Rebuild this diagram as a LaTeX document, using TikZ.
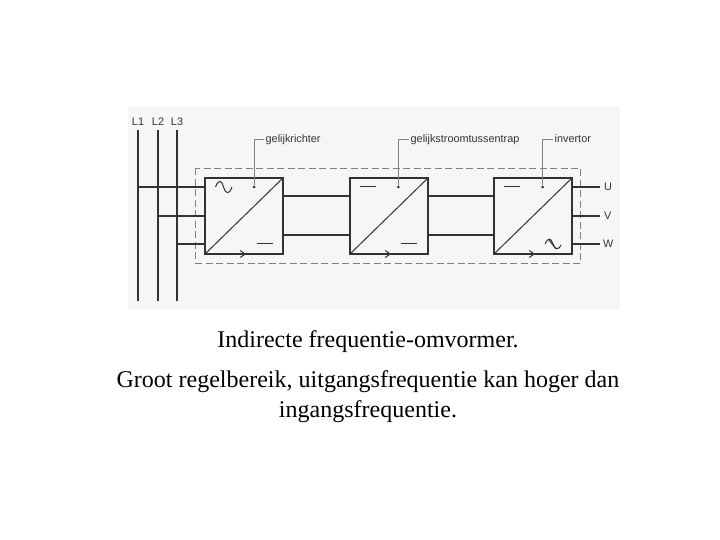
\documentclass[tikz,border=0pt]{standalone}
\usepackage{fontspec}
\usetikzlibrary{arrows.meta}
\setmainfont{Liberation Serif}
\setsansfont{Liberation Sans}
\definecolor{scanbg}{gray}{0.965}
\definecolor{inkc}{gray}{0.2}
\begin{document}
\begin{tikzpicture}[x=1bp,y=-1bp,
  bus/.style={draw=inkc,line width=2bp},
  link/.style={draw=inkc,line width=2bp},
  conv/.style={draw=inkc,line width=2bp,fill=none,minimum width=78bp,minimum height=76bp,inner sep=0pt,outer sep=0pt},
  thin line/.style={draw=inkc,line width=1bp},
  tag/.style={font=\sffamily\fontsize{10.9}{12}\selectfont,text=inkc,inner sep=1.5bp,anchor=west,text height=8bp,text depth=2.4bp},
  port/.style={tag,inner sep=0pt,text depth=0pt},
  dot/.style={circle,fill=inkc,minimum size=3bp,inner sep=0pt},
  caption/.style={font=\fontsize{24.1}{26}\selectfont,text=black,inner sep=0pt,text height=16bp,text depth=5bp},
]
\useasboundingbox (0,0) rectangle (720,540);
\def\ya{187}\def\yb{216}\def\yc{244}\def\yd{196}\def\ye{235}
% scan background
\fill[scanbg] (128,106) rectangle (620,310);
% dashed enclosure
\draw[draw=gray,line width=0.8bp,dash pattern=on 7bp off 3.5bp] (195.7,168.3) rectangle (580.7,263.3);
% bus bars
\node[port,anchor=center] (l1) at (138,122) {L1};
\node[port,anchor=center] (l2) at (158,122) {L2};
\node[port,anchor=center] (l3) at (177,122) {L3};
\coordinate (l1a) at (138,130);\coordinate (l1b) at (138,301);
\coordinate (l2a) at (158,130);\coordinate (l2b) at (158,301);
\coordinate (l3a) at (177,130);\coordinate (l3b) at (177,301);
\draw[bus] (l1a) -- (l1b);
\draw[bus] (l2a) -- (l2b);
\draw[bus] (l3a) -- (l3b);
% converters
\node[conv] (rect) at (244,216) {};
\node[conv] (dcdc) at (389,216) {};
\node[conv] (inv) at (533,216) {};
\foreach \b in {rect,dcdc,inv}{
  \draw[thin line] (\b.south west) -- (\b.north east);
  \draw[thin line,-{Straight Barb[length=5bp,width=7bp]}] (\b.south west) -- ++(41,0);
}
% inputs
\draw[link] (l1a |- 0,\ya) -- (rect.west |- 0,\ya);
\draw[link] (l2a |- 0,\yb) -- (rect.west |- 0,\yb);
\draw[link] (l3a |- 0,\yc) -- (rect.west |- 0,\yc);
% dc links
\draw[link] (rect.east |- 0,\yd) -- (dcdc.west |- 0,\yd);
\draw[link] (rect.east |- 0,\ye) -- (dcdc.west |- 0,\ye);
\draw[link] (dcdc.east |- 0,\yd) -- (inv.west |- 0,\yd);
\draw[link] (dcdc.east |- 0,\ye) -- (inv.west |- 0,\ye);
% outputs
\node[port] (u) at (604,\ya) {U};
\node[port] (v) at (604,\yb) {V};
\node[port] (w) at (603,\yc) {W};
\draw[link] (inv.east |- u) -- ++(28,0);
\draw[link] (inv.east |- v) -- ++(28,0);
\draw[link] (inv.east |- w) -- ++(28,0);
% symbols in the boxes
\draw[thin line] (215.5,187) .. controls (219,178) and (222,181) .. (223.5,187) .. controls (225,193) and (229,196) .. (232,187);
\draw[thin line] (257,244) -- (273,244);
\draw[thin line] (360,187) -- (376,187);
\draw[thin line] (401,244) -- (417,244);
\draw[thin line] (504,187) -- (520,187);
\draw[thin line] (545,244) .. controls (549,236) and (551,239) .. (553,244) .. controls (555,249) and (558,251) .. (561,245);
\draw[thin line] (549,240) -- (556,249);
% leaders
\node[dot] (d1) at (254,187) {};
\node[dot] (d2) at (398.3,187) {};
\node[dot] (d3) at (542.7,187) {};
\node[tag] (rectlab) at (264,139.5) {gelijkrichter};
\node[tag] (dcdclab) at (409,139.5) {gelijkstroomtussentrap};
\node[tag] (invlab) at (553,139.5) {invertor};
\draw[thin line,draw=gray] (d1) |- (rectlab.west);
\draw[thin line,draw=gray] (d2) |- (dcdclab.west);
\draw[thin line,draw=gray] (d3) |- (invlab.west);
% caption
\node[caption] (cap1) at (368,342) {Indirecte frequentie-omvormer.};
\node[caption] (cap2) at (368,382) {Groot regelbereik, uitgangsfrequentie kan hoger dan};
\node[caption] (cap3) at (368,412) {ingangsfrequentie.};
\end{tikzpicture}
\end{document}
